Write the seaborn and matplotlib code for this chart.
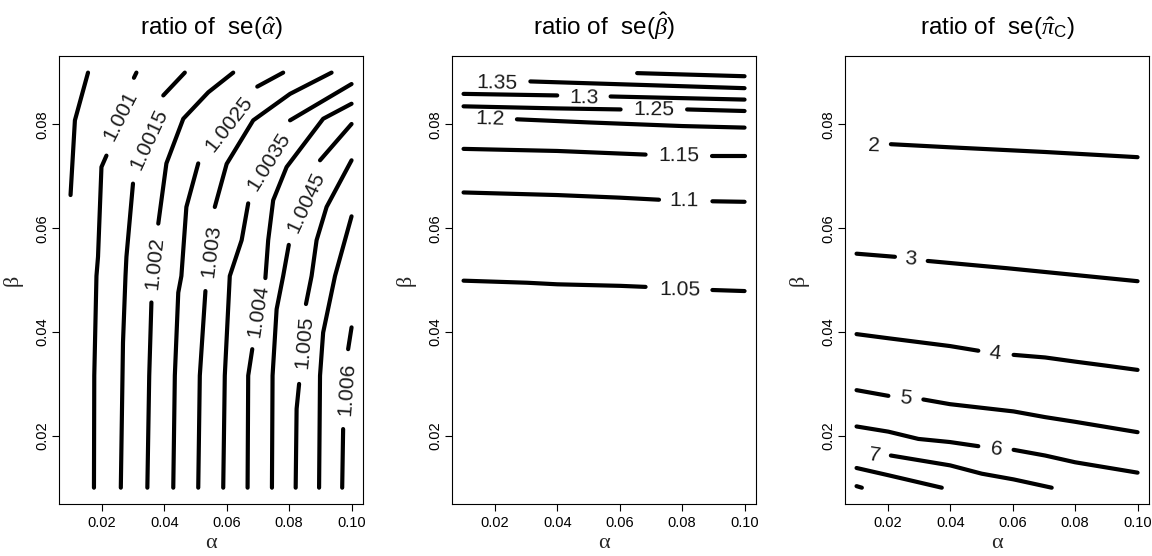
import matplotlib
matplotlib.use("Agg")
import matplotlib.pyplot as plt
import seaborn as sns

# ---------------- data ----------------
alpha_ticks = [0.02, 0.04, 0.06, 0.08, 0.10]
alpha_tick_labels = ["0.02", "0.04", "0.06", "0.08", "0.10"]
beta_ticks = [0.02, 0.04, 0.06, 0.08]
beta_tick_labels = ["0.02", "0.04", "0.06", "0.08"]
alpha_range = [0.01, 0.10]
beta_range = [0.01, 0.09]

titles = [r"ratio of  se($\hat{\alpha}$)",
          r"ratio of  se($\hat{\beta}$)",
          r"ratio of  se($\hat{\pi}_{\mathrm{C}}$)"]

# Panel 1: contour lines of ratio of se(alpha-hat); visible pieces as (alpha, beta)
p1_1p0005 = [[(0.0100, 0.0664), (0.0114, 0.0808), (0.0156, 0.0900)]]
p1_1p0010 = [[(0.0175, 0.0100), (0.0176, 0.0316), (0.0183, 0.0508), (0.0188, 0.0545),
              (0.0199, 0.0718), (0.0215, 0.0740)],
             [(0.0303, 0.0890), (0.0311, 0.0900)]]
p1_1p0015 = [[(0.0261, 0.0100), (0.0268, 0.0380), (0.0276, 0.0508), (0.0279, 0.0545),
              (0.0300, 0.0686)],
             [(0.0397, 0.0856), (0.0466, 0.0900)]]
p1_1p0020 = [[(0.0346, 0.0100), (0.0352, 0.0316), (0.0359, 0.0457)],
             [(0.0381, 0.0609), (0.0407, 0.0725), (0.0461, 0.0811), (0.0541, 0.0862),
              (0.0621, 0.0900)]]
p1_1p0025 = [[(0.0429, 0.0100), (0.0434, 0.0316), (0.0445, 0.0476), (0.0455, 0.0508),
              (0.0471, 0.0641), (0.0509, 0.0725)],
             [(0.0698, 0.0873), (0.0781, 0.0900)]]
p1_1p0030 = [[(0.0509, 0.0100), (0.0514, 0.0316), (0.0532, 0.0479)],
             [(0.0562, 0.0641), (0.0600, 0.0724), (0.0685, 0.0808), (0.0803, 0.0859),
              (0.0936, 0.0900)]]
p1_1p0035 = [[(0.0589, 0.0100), (0.0594, 0.0316), (0.0610, 0.0508), (0.0648, 0.0577),
              (0.0669, 0.0648)],
             [(0.0803, 0.0808), (0.1000, 0.0878)]]
p1_1p0040 = [[(0.0667, 0.0100), (0.0669, 0.0316), (0.0682, 0.0367)],
             [(0.0724, 0.0504), (0.0733, 0.0577), (0.0749, 0.0654), (0.0792, 0.0718),
              (0.0909, 0.0811), (0.1000, 0.0840)]]
p1_1p0045 = [[(0.0745, 0.0100), (0.0747, 0.0316), (0.0760, 0.0444), (0.0781, 0.0508),
              (0.0799, 0.0568)],
             [(0.0899, 0.0731), (0.1000, 0.0801)]]
p1_1p0050 = [[(0.0821, 0.0100), (0.0824, 0.0252), (0.0832, 0.0300)],
             [(0.0854, 0.0454), (0.0872, 0.0508), (0.0888, 0.0577), (0.0920, 0.0641),
              (0.1000, 0.0731)]]
p1_1p0055 = [[(0.0896, 0.0100), (0.0899, 0.0316), (0.0909, 0.0399), (0.0947, 0.0508),
              (0.1000, 0.0623)]]
p1_1p0060 = [[(0.0970, 0.0100), (0.0973, 0.0213)],
             [(0.0989, 0.0367), (0.1000, 0.0409)]]
p1_label_text = ["1.001", "1.0015", "1.002", "1.0025", "1.003", "1.0035",
                 "1.004", "1.0045", "1.005", "1.006"]
p1_label_alpha = [0.0260, 0.0350, 0.0370, 0.0608, 0.0549, 0.0736, 0.0700, 0.0853, 0.0847, 0.0986]
p1_label_beta = [0.0816, 0.0772, 0.0532, 0.0801, 0.0557, 0.0728, 0.0440, 0.0650, 0.0380, 0.0290]
p1_label_angle = [63, 65, 84, 52, 83, 58, 81, 65, 85, 86]

# Panel 2: contour lines of ratio of se(beta-hat)
p2_1p05 = [[(0.0100, 0.0499), (0.0304, 0.0495), (0.0400, 0.0492), (0.0603, 0.0489),
            (0.0683, 0.0487)],
           [(0.0897, 0.0481), (0.1000, 0.0479)]]
p2_1p10 = [[(0.0100, 0.0669), (0.0400, 0.0664), (0.0600, 0.0659), (0.0726, 0.0655)],
           [(0.0897, 0.0652), (0.1000, 0.0651)]]
p2_1p15 = [[(0.0100, 0.0753), (0.0400, 0.0749), (0.0683, 0.0742)],
           [(0.0897, 0.0740), (0.1000, 0.0740)]]
p2_1p20 = [[(0.0271, 0.0810), (0.0500, 0.0804), (0.0800, 0.0797), (0.1000, 0.0794)]]
p2_1p25 = [[(0.0100, 0.0835), (0.0400, 0.0831), (0.0603, 0.0829)],
           [(0.0816, 0.0829), (0.1000, 0.0826)]]
p2_1p30 = [[(0.0100, 0.0859), (0.0400, 0.0856)],
           [(0.0571, 0.0854), (0.1000, 0.0848)]]
p2_1p35 = [[(0.0314, 0.0883), (0.1000, 0.0870)]]
p2_1p40 = [[(0.0656, 0.0899), (0.1000, 0.0893)]]
p2_label_text = ["1.35", "1.3", "1.25", "1.2", "1.15", "1.1", "1.05"]
p2_label_alpha = [0.0207, 0.0485, 0.0710, 0.0186, 0.0790, 0.0806, 0.0792]
p2_label_beta = [0.0879, 0.0852, 0.0829, 0.0811, 0.0740, 0.0654, 0.0482]
p2_label_angle = [-1.5, -1, -0.5, -1.5, -0.5, -0.5, -0.8]

# Panel 3: contour lines of ratio of se(pi_C-hat)
p3_2 = [[(0.0210, 0.0762), (0.0400, 0.0756), (0.0704, 0.0747), (0.1000, 0.0737)]]
p3_3 = [[(0.0100, 0.0551), (0.0223, 0.0545)],
        [(0.0328, 0.0537), (0.0582, 0.0523), (0.1000, 0.0498)]]
p3_4 = [[(0.0100, 0.0396), (0.0202, 0.0388), (0.0399, 0.0373), (0.0490, 0.0364)],
        [(0.0603, 0.0356), (0.0704, 0.0351), (0.0800, 0.0343), (0.0902, 0.0335),
         (0.1000, 0.0327)]]
p3_5 = [[(0.0100, 0.0288), (0.0202, 0.0277)],
        [(0.0314, 0.0270), (0.0399, 0.0261), (0.0603, 0.0247), (0.0704, 0.0236),
         (0.0800, 0.0227), (0.1000, 0.0207)]]
p3_6 = [[(0.0100, 0.0218), (0.0202, 0.0208), (0.0298, 0.0194), (0.0399, 0.0188),
         (0.0490, 0.0180)],
        [(0.0603, 0.0173), (0.0704, 0.0162), (0.0800, 0.0149), (0.1000, 0.0129)]]
p3_7 = [[(0.0210, 0.0162), (0.0400, 0.0143), (0.0501, 0.0127), (0.0603, 0.0116),
         (0.0725, 0.0100)]]
p3_8 = [[(0.0100, 0.0138), (0.0202, 0.0124), (0.0373, 0.0100)]]
p3_9 = [[(0.0100, 0.0103), (0.0117, 0.0100)]]
p3_label_text = ["2", "3", "4", "5", "6", "7"]
p3_label_alpha = [0.0157, 0.0274, 0.0544, 0.0257, 0.0547, 0.0157]
p3_label_beta = [0.0760, 0.0540, 0.0359, 0.0273, 0.0175, 0.0163]
p3_label_angle = [-2, -4, -6, -6, -7, -8]

panel_lines = [
    [p1_1p0005, p1_1p0010, p1_1p0015, p1_1p0020, p1_1p0025, p1_1p0030,
     p1_1p0035, p1_1p0040, p1_1p0045, p1_1p0050, p1_1p0055, p1_1p0060],
    [p2_1p05, p2_1p10, p2_1p15, p2_1p20, p2_1p25, p2_1p30, p2_1p35, p2_1p40],
    [p3_2, p3_3, p3_4, p3_5, p3_6, p3_7, p3_8, p3_9],
]
panel_labels = [
    (p1_label_text, p1_label_alpha, p1_label_beta, p1_label_angle),
    (p2_label_text, p2_label_alpha, p2_label_beta, p2_label_angle),
    (p3_label_text, p3_label_alpha, p3_label_beta, p3_label_angle),
]

# ---------------- styling ----------------
sns.set_theme(style="white")
plt.rcParams["font.family"] = ["Liberation Sans", "DejaVu Sans"]
plt.rcParams["mathtext.fontset"] = "custom"
plt.rcParams["mathtext.rm"] = "Liberation Sans"
plt.rcParams["mathtext.it"] = "Liberation Serif:italic"
plt.rcParams["mathtext.bf"] = "Liberation Sans:bold"

fig = plt.figure(figsize=(11.52, 5.56), dpi=100)
fig.patch.set_facecolor("white")

W, H = 1152.0, 556.0
box_top, box_bottom = 56.0, 504.3
lefts = [59.3, 452.3, 845.3]
box_w = 303.5

def ext(r):
    d = (r[1] - r[0]) * 0.04
    return (r[0] - d, r[1] + d)

for i in range(3):
    ax = fig.add_axes([lefts[i] / W, 1 - box_bottom / H, box_w / W, (box_bottom - box_top) / H])
    ax.set_facecolor("white")
    for piece_list in panel_lines[i]:
        for seg in piece_list:
            a = [p[0] for p in seg]
            b = [p[1] for p in seg]
            sns.lineplot(x=a, y=b, sort=False, estimator=None, ax=ax, color="black",
                         linewidth=3.0, solid_capstyle="round", solid_joinstyle="round")
    txt, la, lb, lang = panel_labels[i]
    for t, a, b, g in zip(txt, la, lb, lang):
        ax.text(a, b, t, rotation=g, rotation_mode="anchor", ha="center", va="center",
                fontsize=15.2, color="#1a1a1a", family="Liberation Sans")

    ax.set_xlim(*ext(alpha_range))
    ax.set_ylim(*ext(beta_range))
    ax.set_xticks(alpha_ticks)
    ax.set_xticklabels(alpha_tick_labels)
    ax.set_yticks(beta_ticks)
    ax.set_yticklabels(beta_tick_labels, rotation=90, va="center")
    ax.tick_params(axis="both", which="major", direction="out", length=5, width=0.8,
                   color="black", labelsize=10.5, labelcolor="black", left=True, bottom=True)
    ax.tick_params(axis="x", pad=3.2)
    ax.tick_params(axis="y", pad=2.0)
    for s in ax.spines.values():
        s.set_visible(True)
        s.set_color("black")
        s.set_linewidth(0.8)
    ax.set_xlabel("α", family="Liberation Serif", fontsize=16, va="center")
    ax.set_ylabel("β", family="Liberation Serif", fontsize=16, va="center")
    ax.xaxis.set_label_coords(0.5, -(544 - box_bottom) / (box_bottom - box_top))
    ax.yaxis.set_label_coords(-(59.3 - 13) / box_w, 0.5)
    ax.text(0.5, 1 + (box_top - 34.5) / (box_bottom - box_top), titles[i],
            transform=ax.transAxes, ha="center", va="baseline", fontsize=17.5, color="black")

fig.savefig("out.png", dpi=100, facecolor="white")
